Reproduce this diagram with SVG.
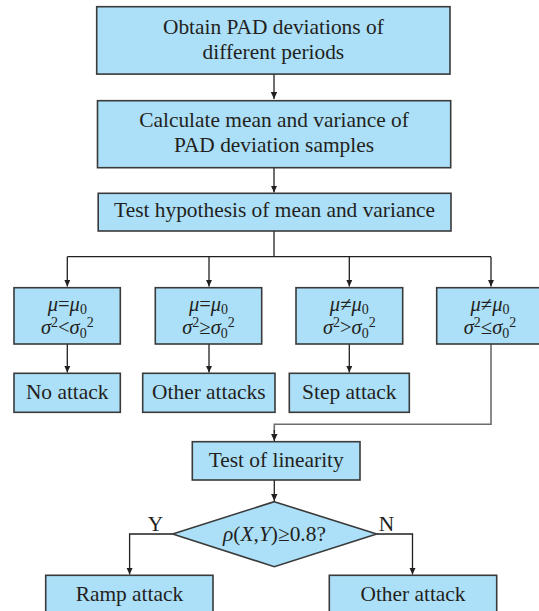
<svg xmlns="http://www.w3.org/2000/svg" width="539" height="611" viewBox="0 0 539 611">
<defs>
<marker id="ah" markerWidth="8" markerHeight="8" refX="7" refY="4" orient="auto" markerUnits="userSpaceOnUse">
<path d="M0,0.8 L7,4 L0,7.2 Z" fill="#231f20"/>
</marker>
</defs>
<style>
.box{fill:#acdff8;stroke:#3a3a3a;stroke-width:1.6}
text{font-family:'Liberation Serif','Times New Roman',serif;font-size:21.4px;fill:#231f20;text-anchor:middle}
.m{font-size:20.5px}
.i{font-style:italic}
.s{font-size:14px}
.c{fill:none;stroke:#231f20;stroke-width:1.3}
.g{fill:none;stroke:#6d6d6d;stroke-width:1.6}
</style>
<rect width="539" height="611" fill="#ffffff"/>
<g id="connectors">
<path class="c" d="M274,74 V99" marker-end="url(#ah)"/>
<path class="c" d="M274,168 V192.5" marker-end="url(#ah)"/>
<path class="c" d="M274,231 V256.7"/>
<path class="c" d="M67.3,256.7 H491"/>
<path class="c" d="M67.3,256.7 V286.5" marker-end="url(#ah)"/>
<path class="c" d="M209,256.7 V286.5" marker-end="url(#ah)"/>
<path class="c" d="M349.3,256.7 V286.5" marker-end="url(#ah)"/>
<path class="c" d="M491,256.7 V286.5" marker-end="url(#ah)"/>
<path class="c" d="M67.3,344 V372.5" marker-end="url(#ah)"/>
<path class="c" d="M209,344 V372.5" marker-end="url(#ah)"/>
<path class="c" d="M349.3,344 V372.5" marker-end="url(#ah)"/>
<path class="g" d="M491,344 V424.3 H274.3 V433"/>
<path class="c" d="M274.3,430 V441" marker-end="url(#ah)"/>
<path class="c" d="M274.3,480 V501" marker-end="url(#ah)"/>
<path class="c" d="M172.7,534 H129.6 V574.5" marker-end="url(#ah)"/>
<path class="c" d="M376.7,534 H412.5 V574.5" marker-end="url(#ah)"/>
<text font-family="Liberation Serif, serif" x="155.5" y="531">Y</text>
<text font-family="Liberation Serif, serif" x="386.5" y="531">N</text>
</g>
<g id="n1">
<rect class="box" x="96.7" y="6.7" width="353.3" height="67.4"/>
<text font-family="Liberation Serif, serif" x="273.4" y="34">Obtain PAD deviations of</text>
<text font-family="Liberation Serif, serif" x="273.4" y="59">different periods</text>
</g>
<g id="n2">
<rect class="box" x="97.5" y="100.7" width="353.2" height="67"/>
<text font-family="Liberation Serif, serif" x="274" y="127">Calculate mean and variance of</text>
<text font-family="Liberation Serif, serif" x="274" y="152">PAD deviation samples</text>
</g>
<g id="n3">
<rect class="box" x="98.2" y="193.3" width="352.8" height="37.7"/>
<text font-family="Liberation Serif, serif" x="274.6" y="217.2">Test hypothesis of mean and variance</text>
</g>
<g id="c1">
<rect class="box" x="14" y="287.7" width="106.3" height="56.3"/>
<text class="m" font-family="Liberation Serif, serif" x="67.3" y="311"><tspan class="i">μ</tspan>=<tspan class="i">μ</tspan><tspan class="s" dy="3">0</tspan></text>
<text class="m" font-family="Liberation Serif, serif" x="67.3" y="333.5"><tspan class="i">σ</tspan><tspan class="s" dy="-7">2</tspan><tspan dy="7">&lt;</tspan><tspan class="i">σ</tspan><tspan class="s" dy="4">0</tspan><tspan class="s" dy="-11">2</tspan></text>
</g>
<g id="c2">
<rect class="box" x="155.3" y="287.7" width="106.4" height="56.3"/>
<text class="m" font-family="Liberation Serif, serif" x="208.5" y="311"><tspan class="i">μ</tspan>=<tspan class="i">μ</tspan><tspan class="s" dy="3">0</tspan></text>
<text class="m" font-family="Liberation Serif, serif" x="208.5" y="333.5"><tspan class="i">σ</tspan><tspan class="s" dy="-7">2</tspan><tspan dy="7">≥</tspan><tspan class="i">σ</tspan><tspan class="s" dy="4">0</tspan><tspan class="s" dy="-11">2</tspan></text>
</g>
<g id="c3">
<rect class="box" x="296" y="287.7" width="106.7" height="56.3"/>
<text class="m" font-family="Liberation Serif, serif" x="349.3" y="311"><tspan class="i">μ</tspan>≠<tspan class="i">μ</tspan><tspan class="s" dy="3">0</tspan></text>
<text class="m" font-family="Liberation Serif, serif" x="349.3" y="333.5"><tspan class="i">σ</tspan><tspan class="s" dy="-7">2</tspan><tspan dy="7">&gt;</tspan><tspan class="i">σ</tspan><tspan class="s" dy="4">0</tspan><tspan class="s" dy="-11">2</tspan></text>
</g>
<g id="c4">
<rect class="box" x="436.7" y="287.7" width="106.4" height="56.3"/>
<text class="m" font-family="Liberation Serif, serif" x="490" y="311"><tspan class="i">μ</tspan>≠<tspan class="i">μ</tspan><tspan class="s" dy="3">0</tspan></text>
<text class="m" font-family="Liberation Serif, serif" x="490" y="333.5"><tspan class="i">σ</tspan><tspan class="s" dy="-7">2</tspan><tspan dy="7">≤</tspan><tspan class="i">σ</tspan><tspan class="s" dy="4">0</tspan><tspan class="s" dy="-11">2</tspan></text>
</g>
<g id="r1">
<rect class="box" x="14" y="373.3" width="106.3" height="39"/>
<text font-family="Liberation Serif, serif" x="67.2" y="398.5">No attack</text>
</g>
<g id="r2">
<rect class="box" x="142.7" y="373.3" width="132.3" height="39"/>
<text font-family="Liberation Serif, serif" x="208.8" y="398.5">Other attacks</text>
</g>
<g id="r3">
<rect class="box" x="289.3" y="373.3" width="120" height="39"/>
<text font-family="Liberation Serif, serif" x="349.3" y="398.5">Step attack</text>
</g>
<g id="n4">
<rect class="box" x="192.3" y="441.7" width="167.7" height="38.3"/>
<text font-family="Liberation Serif, serif" x="276.2" y="467">Test of linearity</text>
</g>
<g id="d1">
<polygon class="box" points="274.3,501.7 376.7,534 274.3,566.7 172.7,534"/>
<text font-family="Liberation Serif, serif" x="274.5" y="541"><tspan class="i">ρ</tspan>(<tspan class="i">X</tspan>,<tspan class="i">Y</tspan>)≥0.8?</text>
</g>
<g id="e1">
<rect class="box" x="45.7" y="575.3" width="167.3" height="40"/>
<text font-family="Liberation Serif, serif" x="129.4" y="600.5">Ramp attack</text>
</g>
<g id="e2">
<rect class="box" x="329.3" y="575.3" width="167.4" height="40"/>
<text font-family="Liberation Serif, serif" x="413" y="600.5">Other attack</text>
</g>
</svg>
